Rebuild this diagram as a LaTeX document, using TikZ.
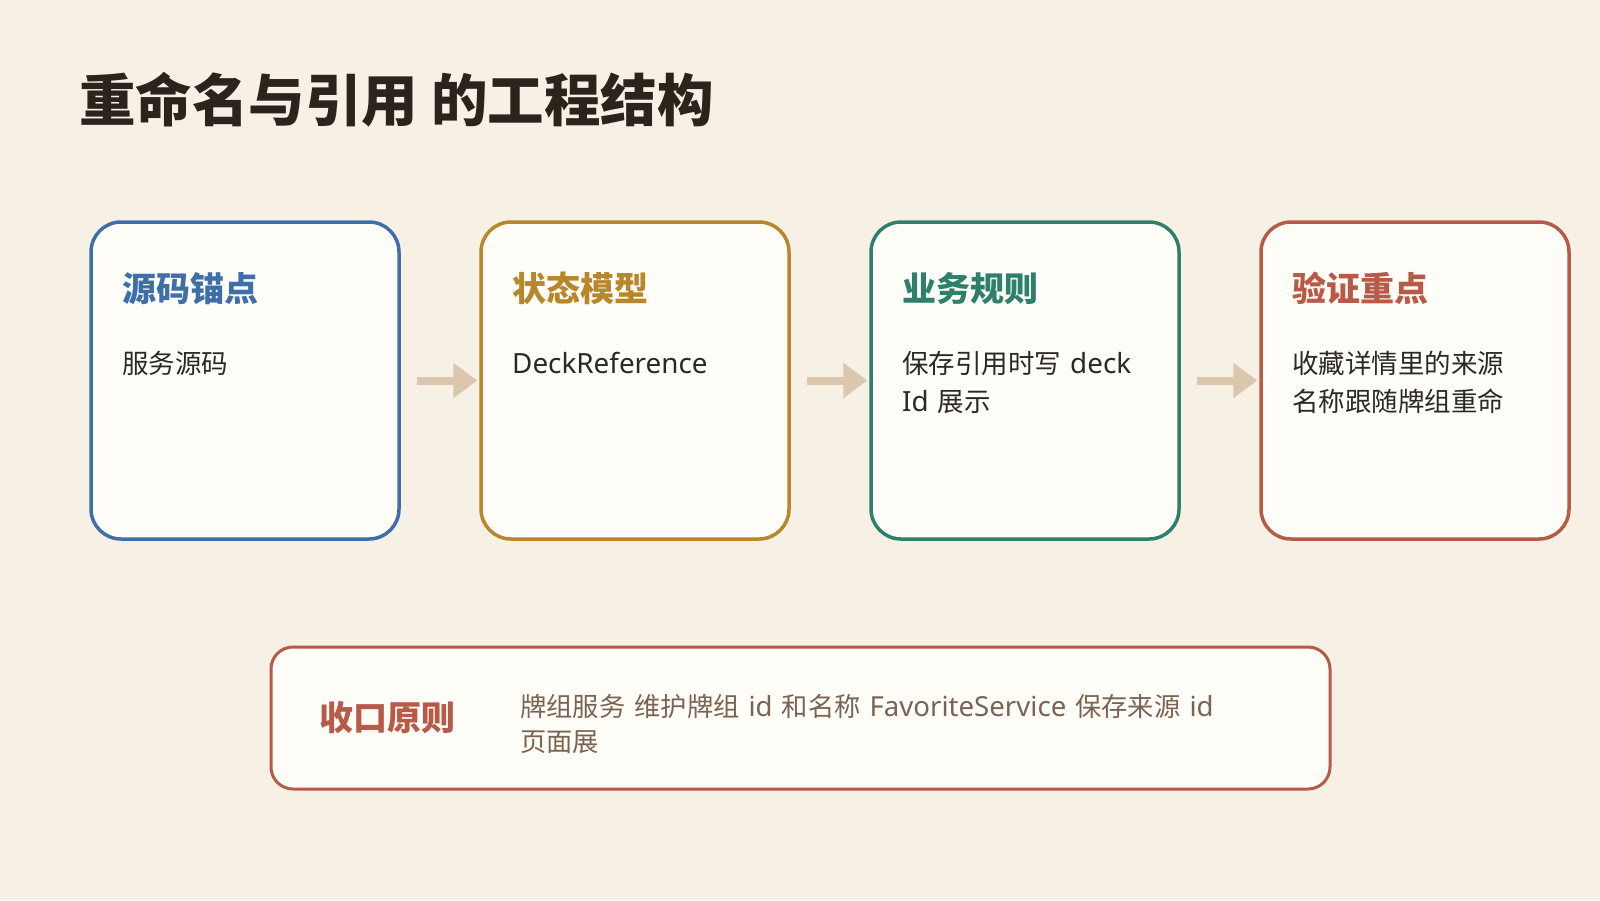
\documentclass[tikz,border=0pt]{standalone}
\usepackage{fontspec}
\setmainfont{Noto Sans CJK SC}
\newfontfamily\latfont[Scale=1.05]{Noto Sans}
\usetikzlibrary{arrows.meta}
\definecolor{bg}{HTML}{F7F0E5}
\definecolor{boxfill}{HTML}{FFFDF8}
\definecolor{cblue}{HTML}{3E6FA8}
\definecolor{cgold}{HTML}{B8862B}
\definecolor{cgreen}{HTML}{2E806A}
\definecolor{cred}{HTML}{B85A48}
\definecolor{carrow}{HTML}{DAC7AD}
\definecolor{ctitle}{HTML}{2A241D}
\definecolor{cbody}{HTML}{2B2826}
\definecolor{cnote}{HTML}{7A6352}
\newcommand{\lt}[1]{{\latfont #1}}
\newcommand{\wsp}{\hspace{9pt}}
\tikzset{
  card/.style={draw=#1, line width=3.5pt, fill=boxfill, rounded corners=30pt, minimum width=308pt, minimum height=317pt, inner sep=0pt},
  cardtitle/.style={anchor=base west, inner sep=0pt, text=#1, font=\fontsize{34}{40}\selectfont\bfseries},
  cardbody/.style={anchor=base west, inner sep=0pt, text=cbody, font=\fontsize{26.5}{38}\selectfont},
  notetext/.style={anchor=base west, inner sep=0pt, text=cnote, font=\fontsize{26.3}{36}\selectfont},
  flow/.style={draw=carrow, line width=8pt, -{Triangle[length=24pt,width=34pt]}, shorten >=2pt},
}
\begin{document}
\begin{tikzpicture}[x=1pt,y=-1pt]
\useasboundingbox[fill=bg] (0,0) rectangle (1600,900);
% title
\node[anchor=base west, inner sep=0pt, text=ctitle, font=\fontsize{56.5}{64}\selectfont\bfseries] (title) at (79,121) {重命名与引用 的工程结构};
% cards
\node[card=cblue]  (b1) at (245,380.5) {};
\node[card=cgold]  (b2) at (635,380.5) {};
\node[card=cgreen] (b3) at (1025,380.5) {};
\node[card=cred]   (b4) at (1415,380.5) {};
\node[cardtitle=cblue]  (t1) at (122,301) {源码锚点};
\node[cardtitle=cgold]  (t2) at (512,301) {状态模型};
\node[cardtitle=cgreen] (t3) at (902,301) {业务规则};
\node[cardtitle=cred]   (t4) at (1292,301) {验证重点};
\node[cardbody] (d1) at (122,373) {服务源码};
\node[cardbody] (d2) at (512,373) {\lt{DeckReference}};
\node[cardbody] (d3a) at (902,373) {保存引用时写\wsp\lt{deck}};
\node[cardbody] (d3b) at (902,411) {\lt{Id}\wsp 展示};
\node[cardbody] (d4a) at (1292,373) {收藏详情里的来源};
\node[cardbody] (d4b) at (1292,411) {名称跟随牌组重命};
% arrows
\draw[flow] ([xshift=16pt]b1.east) -- (b2.west);
\draw[flow] ([xshift=16pt]b2.east) -- (b3.west);
\draw[flow] ([xshift=16pt]b3.east) -- (b4.west);
% bottom box
\node[draw=cred, line width=3pt, fill=boxfill, rounded corners=22pt, minimum width=1059pt, minimum height=142pt, inner sep=0pt] (note) at (800.5,718) {};
\node[anchor=base west, inner sep=0pt, text=cred, font=\fontsize{34}{40}\selectfont\bfseries] (nt) at (319,730) {收口原则};
\node[notetext] (n1) at (520,716) {牌组服务\wsp 维护牌组\wsp\lt{id}\wsp 和名称\wsp\lt{FavoriteService}\wsp 保存来源\wsp\lt{id}};
\node[notetext] (n2) at (520,751) {页面展};
\end{tikzpicture}
\end{document}
